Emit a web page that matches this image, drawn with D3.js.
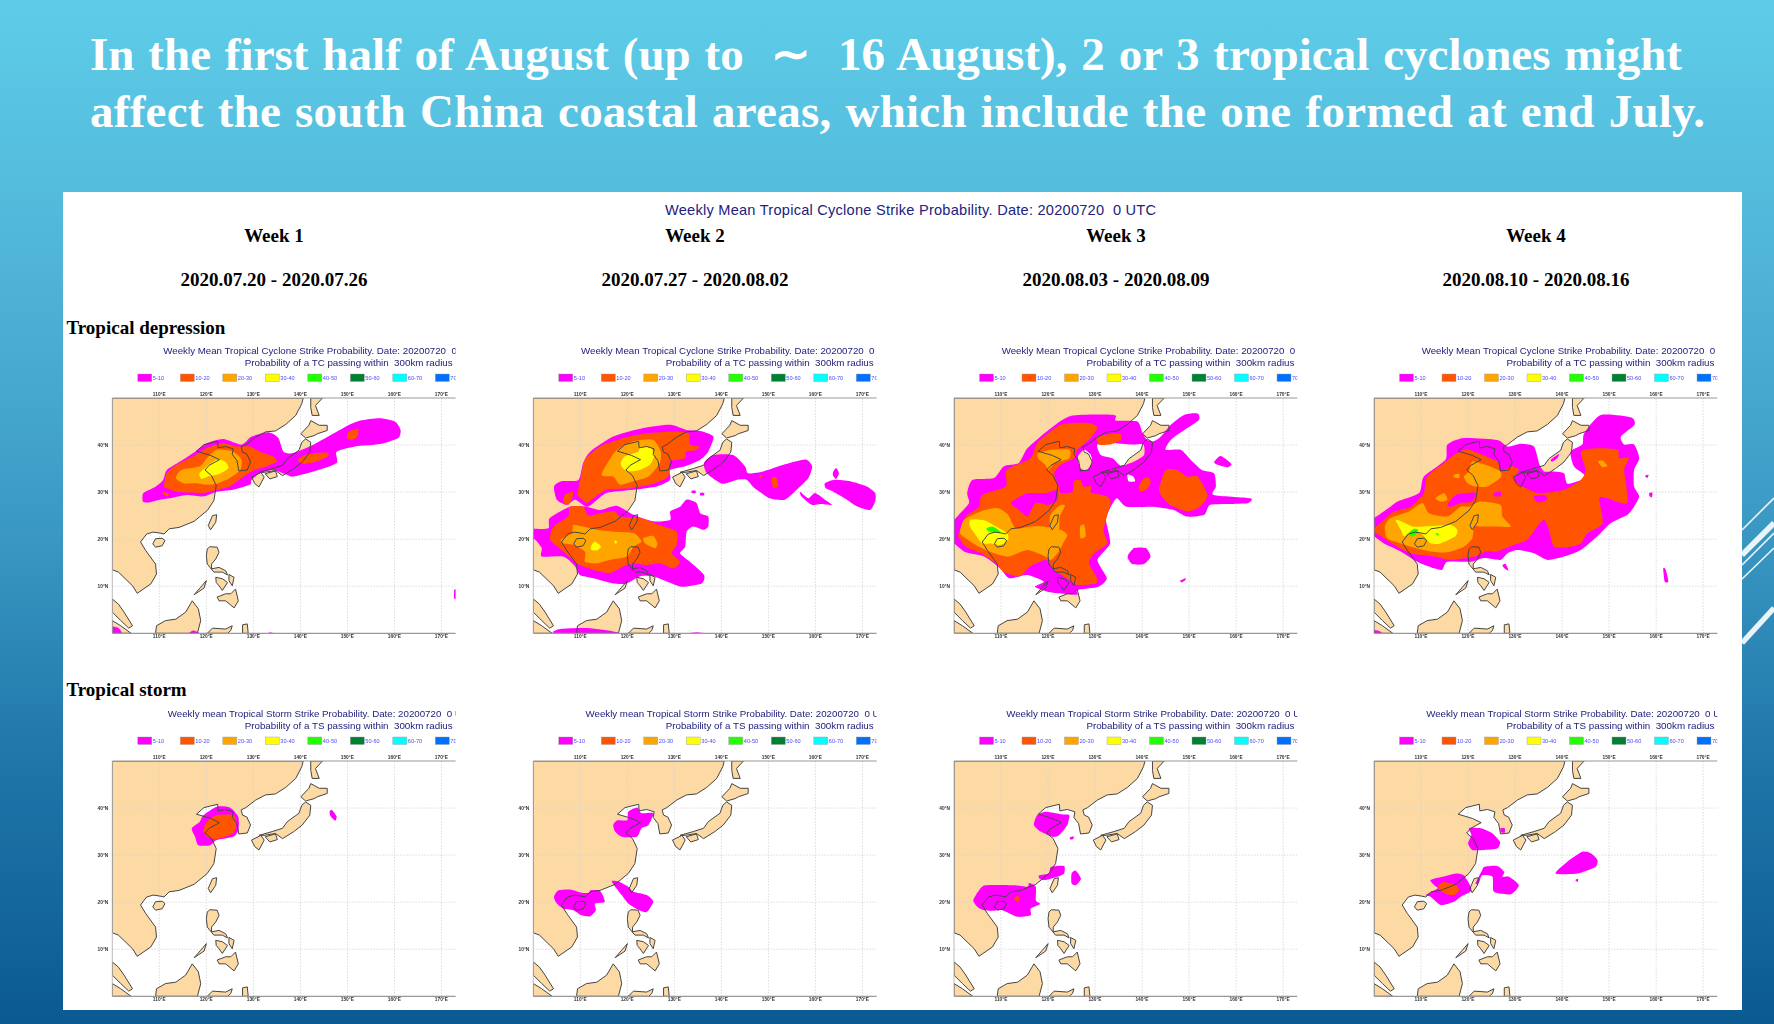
<!DOCTYPE html>
<html><head><meta charset="utf-8">
<style>html,body{margin:0;padding:0;background:#2f8dba;overflow:hidden}svg{display:block}text{white-space:pre}</style>
<script src="https://cdnjs.cloudflare.com/ajax/libs/d3/7.8.5/d3.min.js"></script>
</head><body><svg id="c" width="1774" height="1024"></svg>
<script>
const titleLines=["In the first half of August (up to  ∼  16 August), 2 or 3 tropical cyclones might","affect the south China coastal areas, which include the one formed at end July."];
const headerText="Weekly Mean Tropical Cyclone Strike Probability. Date: 20200720  0 UTC";
const weekLabels=["Week 1","Week 2","Week 3","Week 4"];
const dateLabels=["2020.07.20 - 2020.07.26","2020.07.27 - 2020.08.02","2020.08.03 - 2020.08.09","2020.08.10 - 2020.08.16"];
const rowLabels=["Tropical depression","Tropical storm"];
const rowTitles=["Weekly Mean Tropical Cyclone Strike Probability. Date: 20200720  0 UTC","Weekly mean Tropical Storm Strike Probability. Date: 20200720  0 UTC"];
const rowSubs=["Probability of a TC passing within  300km radius","Probability of a TS passing within  300km radius"];
const legendLabels=["5-10","10-20","20-30","30-40","40-50","50-60","60-70","70-"];
const legendColors=["#ff00ff","#ff5500","#ffa500","#ffff00","#22ff00","#008033","#00ffff","#0070ff"];
const lonTicks=[110,120,130,140,150,160,170];
const latTicks=[10,20,30,40];

// land outlines [lon,lat]
const landMain=[[100,50],[140.6,50],[140.3,48.8],[139,46.3],[136.9,44.4],[134.7,43],[132.6,42.8],[130.5,41.7],[128.4,40.1],[127.4,39.6],[127.7,38.5],[128.6,38.1],[129.4,36.4],[128.7,34.7],[126.9,34.5],[126.5,36.7],[125.5,38],[125.7,39.2],[124.1,39.7],[122.5,39.4],[122.4,40.8],[119.5,40.1],[117.9,38.7],[120.9,37.8],[122.8,36.9],[120.6,35.7],[119.7,34.7],[121.1,33.5],[122.1,31.4],[121.6,28.2],[120.2,26.1],[117.4,23.8],[114.2,22.5],[112.1,22.2],[111,21.1],[110.1,21.3],[108.7,21.5],[107.3,21.1],[106,19.4],[107.1,17.6],[109.2,14.7],[109.4,12.6],[108.2,10.5],[105.3,8.5],[104.3,10.1],[101.3,13],[100,13.5]];
const landIslands=[
[[100,7.3],[101.3,6.2],[102.5,4.5],[104.3,1.6],[103.5,1.1],[101.8,2.7],[100,4.5]],
[[100,2.7],[101.8,1.6],[104,0],[100,0]],
[[109.2,0],[109.4,1.6],[111.3,2.7],[113.5,3],[115.6,4.5],[117,6.9],[118.3,5.2],[118.8,2.7],[118.1,0]],
[[120.2,0],[121.3,1.1],[124.1,.9],[125.5,1.6],[125.2,.6],[124.5,0]],
[[127.7,0],[127.7,1.8],[128.7,2],[128.9,0]],
[[108.6,19],[109.2,20.1],[110.6,20.2],[111.2,19.7],[110.6,18.6],[109.2,18.3]],
[[120.4,22.9],[121.3,25],[122.2,25.2],[122,23.6],[120.9,22]],
[[120.2,17.9],[120.7,18.4],[122.3,18.3],[122.7,17.2],[122,15.8],[121.1,14.7],[121.1,13.7],[122.7,14],[124.1,13.3],[124.5,12.4],[123.4,13],[121.6,13],[120.2,14.7],[120,16.5]],
[[122,11.9],[123.4,11.6],[124.5,10.8],[123.4,9.1],[122.7,10.1],[122.1,10.8]],
[[124.8,12.5],[125.9,11.9],[125.5,10.1],[124.8,11.2]],
[[122.3,7.7],[124.1,8.4],[125.2,8.4],[126.2,9.4],[126.8,6.9],[125.9,5.4],[124.1,6.9],[122.7,6.9]],
[[117.4,8.2],[118.8,9.8],[120,11.2],[119.5,9.6]],
[[131.2,34.2],[134,35],[136.2,35.7],[137.2,37.1],[139.7,38.9],[140.3,40.6],[141.1,41.3],[142.2,40.6],[142,38.5],[140.4,36.4],[138.6,35],[136.2,33.5],[134.7,34.6],[132.3,34.2]],
[[129.6,33.2],[131.6,34.2],[132.3,33.2],[131.2,31.1],[130.3,31.8]],
[[132.5,33.9],[134.7,34.5],[135.1,33.3],[133.5,32.8]],
[[140.1,42.4],[141.8,44.2],[142.2,45.2],[144,44.2],[145.7,44.2],[145.7,43.1],[143.6,42.4],[142.9,42],[141.1,41.5]],
[[142.2,50],[144.7,50],[143.2,48.4],[144,46.3],[142.5,46.3],[142.2,48]]
];

// probability areas: [legend class, ring, optional hole rings...] painted in order
const tdWeek1=[
[0,[[106.5,28.0],[106.6,29.8],[109.1,31.1],[110.8,32.6],[111.6,34.7],[114.4,36.5],[117.6,38.6],[120.1,40.4],[123.6,41.3],[127.5,40.1],[129.6,41.8],[133.2,42.7],[135.3,41.5],[136.4,38.6],[138.5,38.3],[142.8,40.1],[149.8,44.0],[152.7,45.2],[156.9,45.7],[160.1,45.0],[161.3,43.2],[160.8,41.5],[156.9,40.2],[151.6,39.7],[147.7,38.6],[147.7,36.2],[143.5,34.6],[138.5,33.3],[137.1,33.7],[134.2,34.7],[131.4,34.0],[129.6,32.6],[129.3,31.6],[125.7,30.5],[122.2,30.1],[119.4,29.1],[115.8,29.4],[112.3,28.7],[110.1,28.4],[107.7,27.8]]],
[0,[[172.7,9.2],[173.2,9.2],[173.2,7.4],[172.7,7.4]]],
[0,[[100,1.4],[101.3,1.1],[102,0],[100,0]]],
[0,[[116.4,0],[117.2,.6],[118.6,0]]],
[0,[[133,0],[133.7,.2],[134.2,0]]],
[1,[[111.0,31.2],[111.6,34.0],[113.7,35.8],[117.2,37.6],[120.1,39.4],[123.6,40.4],[126.4,39.7],[129.3,39.7],[131.4,38.6],[134.2,37.6],[135.0,36.5],[132.8,35.5],[130.0,34.6],[127.5,33.0],[125.0,31.2],[122.2,30.5],[119.4,29.8],[116.5,29.9],[113.7,30.1],[111.6,30.8]]],
[1,[[110.8,30.1],[112.1,29.6],[111.7,29.1],[110.8,29.6]]],
[1,[[150.3,42.9],[152.3,43.4],[152.1,41.8],[151.0,41.0],[149.9,41.5]]],
[1,[[139.6,37.2],[141.7,38.1],[145.6,38.4],[145.9,37.6],[143.5,36.5],[141.0,36.0],[139.8,36.3]]],
[2,[[113.5,33.0],[114.7,34.7],[118.6,35.5],[120.1,37.2],[122.2,39.0],[125.7,38.6],[127.5,36.9],[127.2,34.7],[125.0,33.0],[122.2,31.8],[120.1,31.6],[117.6,31.9],[115.1,31.9]]],
[3,[[118.5,33.9],[120.1,35.5],[122.2,36.9],[124.0,36.5],[124.7,35.1],[122.9,33.9],[120.4,33.3],[119.0,32.8]]]
];
const tdWeek2=[
[0,[[104.4,31.2],[106.0,32.3],[109.6,32.6],[110.6,36.2],[112.1,38.6],[117.0,41.8],[123.4,43.6],[129.1,44.3],[132.6,43.2],[135.5,43.0],[138.3,41.8],[137.2,38.6],[135.5,36.9],[132.3,35.5],[129.1,34.7],[129.1,32.6],[126.2,31.2],[121.3,30.5],[115.6,29.8],[112.8,27.7],[111.3,26.9],[108.9,28.4],[107.1,27.3],[105.0,28.4]]],
[0,[[99,22.2],[100,22.2],[103.2,22.3],[103.5,24.5],[107.8,26.9],[111.3,26.9],[114.2,26.2],[117.7,27.1],[121.3,25.2],[125.5,23.8],[129.1,24.1],[129.1,25.9],[131.2,26.9],[132.6,28.4],[134.7,27.7],[135.5,25.5],[137.2,24.8],[137.2,22.7],[136.2,22.0],[134.0,22.7],[132.6,21.6],[132.3,18.4],[131.2,17.0],[133.3,15.2],[136.3,12.4],[135.8,10.6],[131.6,9.9],[128.4,11.0],[125.5,12.1],[122.7,12.1],[119.9,10.6],[117.0,10.6],[112.8,11.7],[109.9,12.4],[108.9,14.2],[106.4,16.3],[101.8,16.3],[101.8,18.1],[100.4,19.9],[99,20]]],
[0,[[136.3,36.2],[138.3,37.9],[142.5,37.9],[145.0,35.5],[145.7,34.0],[148.9,34.4],[153.2,35.8],[155.7,36.5],[158.1,36.9],[159.3,35.5],[158.5,33.0],[156.0,30.5],[153.5,28.4],[150.3,28.7],[147.1,30.8],[145.4,32.6],[143.2,32.6],[140.1,31.8],[136.9,34.0]]],
[0,[[156.7,30.1],[158.5,28.7],[159.9,29.8],[162.0,28.4],[163.5,27.3],[161.0,27.5],[159.2,27.3],[157.1,29.0]]],
[0,[[162.0,31.9],[163.8,32.6],[167.4,32.3],[170.9,31.2],[172.7,29.8],[172.7,28.0],[171.6,26.2],[168.8,27.0],[166.7,28.4],[163.8,30.1],[162.2,30.8]]],
[0,[[163.8,34.4],[164.4,35.1],[165.0,34.0],[164.4,32.8],[163.7,33.6]]],
[0,[[135.5,29.8],[136.3,29.8],[136.3,29.3],[135.5,29.3]]],
[0,[[133.7,30.3],[134.5,30.3],[134.5,29.8],[133.7,29.8]]],
[0,[[104.6,0],[105.7,.9],[111.3,1.1],[117,.4],[117.7,0]]],
[0,[[133.3,0],[134.7,.2],[136.3,0]]],
[1,[[106.7,29.4],[108.4,30.1],[108.2,28.4],[107.4,27.3],[106.4,27.9]]],
[1,[[109.4,29.8],[110.3,34.0],[111.0,36.9],[114.2,39.7],[119.1,41.5],[124.1,42.5],[129.8,42.9],[133.0,42.5],[133.3,40.1],[135.2,39.7],[134.7,38.9],[132.5,38.6],[132.3,37.2],[129.1,36.5],[128.7,33.3],[125.5,31.8],[120.6,30.8],[115.6,30.5],[112.8,28.7],[111.3,27.7],[109.6,29.1]]],
[1,[[103.5,20.2],[104.3,22.7],[107.4,24.8],[107.8,26.9],[110.6,26.9],[111.7,25.0],[114.2,25.5],[117.4,25.9],[118.4,24.8],[122.7,24.5],[127.7,22.7],[130.5,21.6],[130.5,18.8],[129.4,17.0],[131.2,15.2],[129.8,13.8],[126.9,14.9],[124.1,14.5],[121.3,14.9],[119.1,14.2],[116.3,12.8],[112.8,13.5],[109.2,14.9],[106.4,17.4],[104.3,19.1]]],
[1,[[150.7,33.0],[151.6,33.2],[152.1,31.2],[151.0,31.0]]],
[1,[[148.1,33.6],[148.7,33.6],[148.6,33.0],[148.1,33.0]]],
[2,[[114.5,33.7],[117.4,38.6],[121.3,40.8],[125.5,41.1],[127.1,38.6],[126.9,36.2],[124.5,33.3],[121.3,32.3],[118.4,31.6],[117.0,33.3]]],
[2,[[105.8,19.9],[108.2,21.3],[108.5,23.0],[110.6,22.7],[113.5,22.0],[117.0,21.6],[121.3,21.3],[123.0,19.5],[121.3,18.4],[119.9,16.3],[116.3,15.6],[113.5,14.9],[111.0,15.2],[111.0,17.3],[108.5,18.8],[106.4,19.1]]],
[2,[[123.4,20.2],[125.5,20.7],[126.4,19.1],[125.9,18.1],[123.8,19.1]]],
[3,[[118.6,36.2],[119.5,37.6],[122.3,38.6],[122.7,39.6],[125.0,39.4],[125.7,37.6],[124.8,35.8],[122.7,34.7],[120.2,34.4],[119.0,35.1]]],
[3,[[112.2,18.4],[113.1,19.5],[114.4,18.4],[113.5,17.6],[112.4,17.7]]],
[3,[[117.3,19.7],[117.8,19.5],[117.7,19.1],[117.3,19.1]]]
];
const tdWeek3=[
[0,[[99,24.1],[100,24.1],[101.3,25.5],[103.2,27.7],[102.8,29.8],[103.9,32.6],[108.5,33.0],[110.6,35.5],[113.8,36.2],[115.6,39.3],[120.1,43.2],[124.8,46.2],[134.0,46.4],[134.4,45.2],[139.0,45.0],[140.1,42.5],[141.1,41.1],[142.5,40.8],[144.0,41.8],[146.1,44.3],[148.9,46.4],[151.8,46.7],[152.1,45.4],[149.6,43.6],[146.1,41.1],[145.0,39.0],[148.2,39.0],[150.7,36.5],[152.7,34.7],[155.3,34.0],[155.7,31.2],[155.2,29.4],[163.0,28.7],[162.6,27.7],[159.4,27.5],[154.5,27.3],[153.2,25.2],[149.5,24.8],[146.7,26.2],[142.4,26.9],[136.7,26.9],[134.6,28.7],[133.0,26.2],[132.3,24.1],[133.2,19.1],[130.5,15.6],[132.5,11.7],[130.7,9.9],[126.2,9.2],[126.2,8.2],[122.0,8.5],[119.7,8.9],[117.2,9.9],[119.1,11.0],[115.6,12.4],[111.7,11.7],[109.8,13.8],[106.4,16.3],[102.5,17.2],[100,19.1],[99,19.1]],
 [[130.5,40.1],[134.0,40.4],[138.3,40.1],[140.3,40.1],[140.4,37.9],[138.3,36.5],[135.5,35.6],[133.7,37.2],[131.2,37.9]],
 [[126.4,37.6],[127.7,39.0],[129.1,37.9],[129.3,36.2],[128.2,34.7],[126.8,35.1]],
 [[136.9,33.7],[138.1,33.3],[138.5,32.3],[137.1,32.3]]],
[0,[[136.9,16.3],[138.3,18.1],[140.8,18.1],[141.8,16.3],[140.4,14.7],[137.9,14.7]]],
[0,[[155.3,36.4],[156.7,37.7],[159.0,36.0],[158.1,35.3],[156.0,35.8]]],
[0,[[148.1,11.2],[149.3,11.7],[149.1,11.2],[148.4,10.8]]],
[1,[[101.3,22.0],[102.5,24.8],[105.3,26.9],[106.0,29.4],[111.0,31.2],[111.2,34.7],[116.3,37.2],[117.7,40.4],[122.7,44.3],[128.4,44.7],[130.5,43.8],[129.1,41.5],[126.2,39.0],[125.5,37.2],[122.7,35.8],[121.3,34.0],[122.3,31.2],[122.7,29.8],[125.2,30.1],[125.4,32.3],[126.9,32.6],[127.5,31.2],[129.3,31.2],[129.1,29.9],[132.4,29.1],[133.3,27.7],[131.8,22.0],[132.6,19.1],[129.8,17.0],[128.7,14.9],[130.5,11.7],[130.1,10.6],[126.2,10.3],[124.0,11.7],[121.1,13.5],[119.7,15.6],[116.2,14.2],[114.0,12.1],[110.5,13.1],[108.9,14.9],[105.7,17.0],[102.5,18.4],[100.9,20.6]]],
[1,[[139.3,31.2],[140.4,33.0],[141.5,33.0],[141.8,31.9],[140.8,30.5],[139.6,30.1]]],
[1,[[143.6,30.8],[145.0,34.7],[147.4,34.7],[149.6,33.3],[151.8,33.3],[153.9,29.4],[152.3,26.9],[149.6,25.9],[145.9,27.3],[144.0,29.4]]],
[1,[[130.5,41.8],[135.1,42.5],[135.5,41.1],[133.0,40.1],[130.8,40.1]]],
[0,[[112.1,27.7],[114.2,29.1],[115.6,29.8],[119.5,29.8],[122.0,30.5],[122.0,28.4],[120.1,27.3],[117.4,27.7],[116.3,25.9],[115.6,24.8],[113.8,26.2]]],
[2,[[101.3,21.3],[102.1,24.1],[105.7,25.9],[109.2,26.6],[111.5,25.2],[113.1,22.3],[116.2,22.7],[119.0,22.7],[122.7,22.0],[124.1,20.9],[123.4,19.5],[122.3,17.4],[120.6,15.6],[119.5,16.3],[115.6,17.7],[111.7,16.3],[108.5,17.0],[105.3,18.4],[102.5,20.2]]],
[2,[[120.4,24.8],[121.8,26.6],[122.9,27.3],[123.6,27.1],[122.5,24.8],[122.3,22.0],[120.6,22.0]]],
[2,[[126.8,22.7],[127.7,23.0],[128.0,20.6],[126.9,20.2]]],
[2,[[117.9,38.3],[120.9,39.0],[124.5,39.0],[124.5,37.2],[121.5,36.2],[120.1,34.7],[119.4,35.8],[117.9,37.2]]],
[3,[[103.4,22.7],[103.5,24.1],[106.4,24.0],[108.9,22.7],[111.3,21.3],[111.5,19.9],[109.9,18.8],[107.8,19.1],[106.0,19.1],[104.6,20.9]]],
[4,[[106.9,22.3],[108.2,22.7],[109.9,21.6],[108.9,21.4],[107.4,21.6]]]
];
const tdWeek4=[
[0,[[99,24.5],[100,24.5],[103.5,26.9],[105.0,28.0],[109.6,29.8],[110.6,33.3],[115.2,36.9],[115.6,40.1],[119.1,41.5],[126.2,41.1],[128.4,39.7],[131.2,40.3],[134.0,39.7],[135.2,35.8],[136.2,34.4],[138.3,34.4],[140.4,34.0],[141.1,31.8],[144.0,32.6],[144.7,33.7],[142.5,35.5],[141.8,38.6],[144.3,40.1],[144.7,42.5],[148.2,46.4],[154.6,45.9],[155.4,44.3],[152.5,41.8],[153.2,40.1],[155.3,40.1],[156.4,37.2],[155.3,34.7],[155.3,31.2],[156.4,29.1],[155.3,26.9],[153.9,25.2],[150.3,23.4],[147.5,20.6],[144.0,17.7],[140.4,16.3],[136.9,15.6],[134.0,17.0],[130.5,17.7],[128.4,17.0],[126.9,15.6],[123.4,16.0],[120.6,15.2],[115.6,15.2],[114.5,13.5],[112.8,13.8],[109.2,15.2],[105.7,17.4],[102.1,19.1],[100,20.6],[99,20.6]]],
[0,[[100,.7],[101.3,.4],[101.6,0],[100,0]]],
[0,[[127.3,14.5],[128.0,14.7],[128.6,13.3],[127.7,13.8]]],
[0,[[161.5,13.8],[162.0,13.6],[162.6,11.0],[161.8,11.0]]],
[0,[[158.5,29.8],[159.2,29.9],[159.1,28.9],[158.6,29.1]]],
[0,[[157.6,33.5],[158.4,33.7],[158.1,33.0]]],
[1,[[99,22.3],[100,22.3],[102.5,24.5],[104.3,25.9],[107.8,26.9],[110.6,29.8],[111.3,33.3],[114.9,36.2],[117.7,38.3],[120.2,39.0],[126.2,36.5],[126.9,34.4],[129.4,35.5],[130.8,34.7],[129.8,32.6],[131.6,31.2],[134.7,29.8],[136.2,29.8],[140.4,30.5],[144.0,32.6],[145.0,34.7],[144.0,38.6],[147.5,39.3],[151.8,39.0],[152.1,37.2],[154.2,37.2],[153.2,34.7],[153.9,27.7],[149.6,28.7],[147.9,28.7],[148.6,23.4],[145.4,21.3],[144.0,19.1],[141.8,18.4],[138.3,18.4],[137.2,22.0],[136.2,24.1],[134.7,22.7],[132.6,19.9],[129.8,18.8],[126.2,17.4],[123.8,17.4],[121.3,16.3],[116.3,15.6],[112.8,16.3],[107.8,17.0],[104.3,18.8],[100,21.6],[99,21.6]]],
[0,[[115.6,27.3],[117.4,29.4],[120.2,29.8],[121.6,29.8],[120.9,28.0],[118.4,27.7],[116.3,26.9]]],
[0,[[134.0,29.1],[136.2,29.4],[136.9,28.4],[134.7,27.8]]],
[0,[[125.5,29.8],[126.9,30.1],[126.9,29.1],[125.5,29.1]]],
[0,[[137.6,36.9],[139.3,38.1],[139.0,37.2],[137.9,36.5]]],
[2,[[102.3,22.7],[103.5,24.5],[107.4,25.9],[110.3,27.7],[111.7,25.5],[115.6,24.8],[118.4,26.9],[120.2,26.9],[122.7,28.0],[126.9,27.3],[127.3,24.8],[129.1,22.7],[126.2,22.7],[122.7,22.7],[121.3,22.7],[120.9,20.2],[119.1,18.4],[115.6,17.2],[112.1,17.4],[107.8,18.4],[105.7,19.1],[102.8,20.2]]],
[2,[[119.1,33.3],[120.2,34.4],[120.9,36.5],[123.7,35.8],[126.9,34.4],[126.8,33.0],[124.1,31.2],[121.6,31.2],[119.9,31.9]]],
[2,[[113.1,28.7],[114.9,29.8],[115.6,28.4],[114.2,28.0]]],
[2,[[117.0,33.7],[118.1,33.9],[118.1,33.0],[117.0,33.1]]],
[2,[[147.6,36.5],[148.6,36.7],[149.6,35.6],[148.6,35.3]]],
[3,[[104.6,24.1],[106.0,23.7],[108.2,22.7],[110.6,22.7],[116.2,23.0],[117.7,22.0],[117.3,20.6],[114.2,19.1],[112.1,19.1],[111.0,20.2],[109.9,21.3],[107.8,21.6],[106.4,20.6],[105.7,22.0]]],
[4,[[107.4,21.3],[108.5,22.2],[109.4,22.0],[108.9,20.9],[107.8,20.6]]],
[4,[[113.1,21.3],[113.8,21.1],[113.5,20.7]]]
];
const tsWeek1=[
[0,[[116.9,35.7],[118.6,37.1],[119.4,38.5],[122.2,40.3],[125.0,40.1],[126.8,38.1],[126.8,35.3],[125.7,33.9],[122.2,33.2],[120.8,32.1],[118.3,32.1],[117.6,33.9]]],
[0,[[146.2,39.2],[146.7,39.6],[147.7,38.2],[147.4,37.3],[146.4,38.3]]],
[1,[[120.1,37.1],[122.2,38.5],[125.7,38.5],[126.4,36.7],[125.7,34.6],[122.2,33.4],[120.1,33.9],[119.4,35.3]]]
];
const tsWeek2=[
[0,[[117.0,36.4],[117.9,37.4],[120,37.4],[120.2,39.2],[122.1,40.1],[123.0,38.9],[125.5,38.9],[124.5,36.4],[123.0,35.7],[122,33.9],[118.8,33.9],[117.4,35.0]]],
[0,[[104.4,21.1],[105.3,22.5],[107.8,22.7],[110.3,22.0],[111.9,22.0],[112.1,22.5],[114.2,22.4],[115.2,20.1],[113.1,19.7],[113.3,18.3],[112.1,17.0],[110.3,17.2],[108.5,18.3],[106.4,18.6],[105,19.7]]],
[0,[[116.7,24.5],[118.1,24.4],[120.2,23.3],[121.3,22.2],[124.1,21.5],[125.5,20.1],[124.1,17.9],[122.3,18.4],[120.2,19.7],[118.8,21.5],[117.4,23.3]]]
];
const tsWeek3=[
[0,[[117.0,36.4],[117.7,38.5],[119.5,39.2],[122.7,38.7],[124.5,38.5],[124.1,36.4],[122.3,34.2],[120.9,33.9],[118.4,35.0]]],
[0,[[124.6,33.7],[125.4,34.0],[125.4,33.4],[124.8,33.3]]],
[0,[[118.1,25.7],[120.2,26.1],[120.6,27.5],[123.4,27.7],[123.4,26.1],[122,25.4],[119.5,24.7],[118.2,25.0]]],
[0,[[125,26.1],[125.9,26.7],[127,25],[125.9,23.6],[125,24.0]]],
[0,[[104.1,20.4],[105.3,22.5],[106.7,23.6],[112.8,23.6],[115.6,23.3],[116,24.1],[117.4,23.3],[117.4,20.4],[118.3,19.6],[116.3,18.6],[116.3,17.2],[113.5,16.9],[110.3,18.3],[108.5,18.2],[106.4,18.3],[105,19.0]]],
[1,[[112.8,20.8],[113.5,21.3],[114,20.8],[113.5,20.1]]]
];
const tsWeek4=[
[0,[[120.2,35.7],[122.7,35.7],[125.2,34.6],[126.8,32.8],[126.2,31.4],[123.4,31.1],[120.9,31.1],[120,32.5],[120.7,34.3]]],
[0,[[126.9,35.7],[127.8,35.7],[127.8,34.8],[127,34.8]]],
[0,[[112,24.7],[114.6,25.4],[117.4,26.1],[119.1,25.7],[120.6,23.2],[120.5,22.2],[118.4,21.1],[117,20.1],[114.2,19.4],[112.1,21.1],[111,21.5],[113.5,22.9],[112.8,23.6]]],
[0,[[121.6,24.0],[123.0,26.8],[123.4,27.5],[126.2,27.7],[127.7,26.4],[127.3,25.4],[128.7,25.4],[130.8,23.6],[129.1,21.7],[125.5,22.2],[125.2,25.4],[123,25.7],[122.3,24.0]]],
[0,[[138.6,26.1],[141.1,28.6],[144.3,30.7],[146.1,30.4],[147.5,29],[147.1,27.5],[143.2,26.1]]],
[0,[[142.8,24.7],[143.4,25.0],[143.3,24.3]]],
[1,[[113.7,23.6],[114.9,24.3],[117.4,23.6],[118.1,22.5],[117,21.5],[115.2,21.8],[113.8,22.9]]]
];
const panelData=[[tdWeek1,tdWeek2,tdWeek3,tdWeek4],[tsWeek1,tsWeek2,tsWeek3,tsWeek4]];

// layout
const W=1774,H=1024;
const svg=d3.select("#c");
const defs=svg.append("defs");
const grad=defs.append("linearGradient").attr("id","bg").attr("x1",0).attr("x2",0).attr("y1",0).attr("y2",1);
[[0,"#5ecde8"],[.25,"#50b5d9"],[.5,"#3c9bc5"],[.75,"#1e75a8"],[1,"#0b5a92"]].forEach(s=>grad.append("stop").attr("offset",s[0]).attr("stop-color",s[1]));
svg.append("rect").attr("width",W).attr("height",H).attr("fill","url(#bg)");

// decorative stripes
[[498,530,1.6],[523,555,5.5],[533,565,1.6],[548,579,1.6],[608,643,5.5]].forEach(s=>
 svg.append("line").attr("x1",1742).attr("x2",1774).attr("y1",s[1]).attr("y2",s[0]).attr("stroke","#fff").attr("stroke-width",s[2]).attr("opacity",.9));

const serif="'Liberation Serif','Times New Roman',serif", sans="'Liberation Sans',Arial,sans-serif";
titleLines.forEach((t,i)=>svg.append("text").text(t).attr("x",90).attr("y",[70,127][i])
 .attr("textLength",[1592,1615][i]).attr("lengthAdjust","spacing").attr("word-spacing",2)
 .attr("font-family",serif).attr("font-weight",700).attr("font-size",47).attr("fill","#fff"));

svg.append("rect").attr("x",63).attr("y",192).attr("width",1679).attr("height",818).attr("fill","#fff");

svg.append("text").text(headerText).attr("x",665).attr("y",215).attr("textLength",491)
 .attr("font-family",sans).attr("font-size",14.6).attr("fill","#22227e");

const colCenters=[274,695,1116,1536];
weekLabels.forEach((t,i)=>{
 const st=s=>s.attr("text-anchor","middle").attr("font-family",serif).attr("font-weight",700).attr("font-size",19).attr("fill","#000");
 st(svg.append("text").text(t).attr("x",colCenters[i]).attr("y",242.2));
 st(svg.append("text").text(dateLabels[i]).attr("x",colCenters[i]).attr("y",286.2));
});
rowLabels.forEach((t,i)=>svg.append("text").text(t).attr("x",66.5).attr("y",[334,696][i])
 .attr("font-family",serif).attr("font-weight",700).attr("font-size",19).attr("fill","#000"));

const colX=[112.3,533.3,954,1374], rowY=[398,761], mapW=343.3, mapH=235.3;
const x=d3.scaleLinear().domain([100,173]).range([0,mapW]);
const y=d3.scaleLinear().domain([0,50]).range([mapH,0]);
const lineP=d3.line().x(d=>x(d[0])).y(d=>y(d[1]));
const smooth=d3.line().x(d=>x(d[0])).y(d=>y(d[1])).curve(d3.curveCardinalClosed.tension(.35));
const blur=defs.append("filter").attr("id","soft").attr("x","-5%").attr("y","-5%").attr("width","110%").attr("height","110%");
blur.append("feGaussianBlur").attr("stdDeviation",.5);
const clip=defs.append("clipPath").attr("id","mapclip");clip.append("rect").attr("x",0).attr("y",0).attr("width",mapW).attr("height",mapH);
const clipT=defs.append("clipPath").attr("id","textclip");clipT.append("rect").attr("x",0).attr("y",-60).attr("width",mapW).attr("height",60);

rowY.forEach((ry,r)=>colX.forEach((cx,c)=>{
 const g=svg.append("g").attr("transform",`translate(${cx},${ry})`).attr("filter","url(#soft)");
 const tg=g.append("g").attr("clip-path","url(#textclip)");
 tg.append("text").text(rowTitles[r]).attr("x",(c===0?3.3:0)+(r===0?47.7:52.2)).attr("y",-43.7)
  .attr("font-family",sans).attr("font-size",9.72).attr("fill","#22227e");
 tg.append("text").text(rowSubs[r]).attr("x",132.4).attr("y",-32).attr("textLength",208)
  .attr("font-family",sans).attr("font-size",9.8).attr("fill","#22227e");
 legendLabels.forEach((t,i)=>{
  tg.append("rect").attr("x",25.5+42.5*i).attr("y",-24).attr("width",14).attr("height",7.5)
   .attr("fill",legendColors[i]).attr("stroke","#999").attr("stroke-width",.4);
  tg.append("text").text(t).attr("x",40.5+42.5*i).attr("y",-17.8).attr("font-family",sans).attr("font-size",5.6).attr("fill","#4a4aff");
 });
 const m=g.append("g").attr("clip-path","url(#mapclip)");
 const land=[landMain,...landIslands];
 m.selectAll("path.land").data(land).join("path").attr("class","land")
  .attr("d",d=>lineP(d)+"Z").attr("fill","#fdd9a3").attr("stroke","none");
 const grid=m.append("g").attr("stroke","#d6d6d6").attr("stroke-width",.8).attr("stroke-dasharray","1.6,1.4");
 grid.selectAll("line.v").data(lonTicks).join("line").attr("x1",d=>x(d)).attr("x2",d=>x(d)).attr("y1",0).attr("y2",mapH);
 grid.selectAll("line.h").data(latTicks).join("line").attr("y1",d=>y(d)).attr("y2",d=>y(d)).attr("x1",0).attr("x2",mapW);
 m.selectAll("path.area").data(panelData[r][c]).join("path").attr("class","area")
  .attr("fill-rule","evenodd").attr("fill",d=>legendColors[d[0]])
  .attr("d",d=>d.slice(1).map(rg=>smooth(rg)).join(""));
 m.selectAll("path.coast").data(land).join("path").attr("class","coast")
  .attr("d",d=>lineP(d)+"Z").attr("fill","none").attr("stroke","#454545").attr("stroke-width",1).attr("stroke-linejoin","round");
 // frame
 g.append("line").attr("x1",0).attr("x2",mapW).attr("y1",0).attr("y2",0).attr("stroke","#999").attr("stroke-width",1.2);
 g.append("line").attr("x1",0).attr("x2",mapW).attr("y1",mapH).attr("y2",mapH).attr("stroke","#999").attr("stroke-width",1.2);
 g.append("line").attr("x1",0).attr("x2",0).attr("y1",0).attr("y2",mapH).attr("stroke","#aaa").attr("stroke-width",.8);
 // axes
 const fmtE=d=>d+"°E", fmtN=d=>d+"°N";
 const styleAxis=a=>{a.select(".domain").remove();a.selectAll(".tick line").remove();
  a.selectAll("text").attr("font-family",sans).attr("font-size",4.8).attr("font-weight",700).attr("fill","#333");};
 g.append("g").attr("transform","translate(-.6,-2.4)").call(d3.axisTop(x).tickValues(lonTicks).tickFormat(fmtE).tickSize(0).tickPadding(0)).call(styleAxis);
 g.append("g").attr("transform",`translate(-.6,${mapH+1})`).call(d3.axisBottom(x).tickValues(lonTicks).tickFormat(fmtE).tickSize(0).tickPadding(0)).call(styleAxis);
 g.append("g").attr("transform","translate(-4,0)").call(d3.axisLeft(y).tickValues(latTicks).tickFormat(fmtN).tickSize(0).tickPadding(0)).call(styleAxis);
}));
</script></body></html>
